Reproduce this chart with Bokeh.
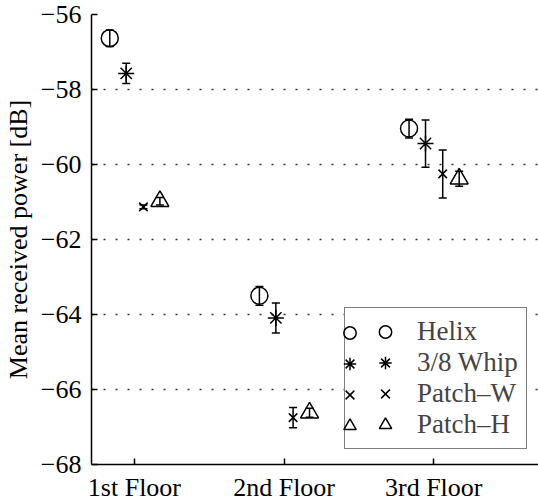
from bokeh.plotting import figure
from bokeh.models import (ColumnDataSource, Whisker, TeeHead, Range1d, FixedTicker,
                          Legend, LegendItem)
from bokeh.embed import file_html
from bokeh.resources import INLINE

floors = ["1st Floor", "2nd Floor", "3rd Floor"]
antennas = ["Helix", "3/8 Whip", "Patch\u2013W", "Patch\u2013H"]
helix = [-56.63, -63.50, -59.04]
helix_err = [0.22, 0.25, 0.25]
whip = [-57.57, -64.09, -59.44]
whip_err = [0.27, 0.40, 0.63]
patch_w = [-61.13, -66.75, -60.25]
patch_w_err = [0.05, 0.27, 0.64]
patch_h = [-60.98, -66.62, -60.38]
patch_h_err = [0.10, 0.12, 0.20]
y_ticks = [-68, -66, -64, -62, -60, -58, -56]

series = [helix, whip, patch_w, patch_h]
errors = [helix_err, whip_err, patch_w_err, patch_h_err]

# layout / style constants
offsets = [-0.165, -0.055, 0.06, 0.17]
markers = [("circle", 17), ("asterisk", 16), ("x", 12), ("triangle", 18)]
FONT = "Liberation Serif"

p = figure(width=538, height=504, x_range=Range1d(0.713, 3.70), y_range=Range1d(-68, -56),
           output_backend="svg", toolbar_location=None,
           min_border_left=90, min_border_right=0, min_border_top=14, min_border_bottom=39)
p.outline_line_color = None
p.background_fill_color = "white"
p.xgrid.visible = False
p.ygrid.ticker = FixedTicker(ticks=y_ticks)
p.ygrid.grid_line_color = "black"
p.ygrid.grid_line_width = 1.5
p.ygrid.grid_line_dash = "2 10"
p.ygrid.grid_line_alpha = 0.8

xticks = list(range(1, len(floors) + 1))
p.xaxis.ticker = FixedTicker(ticks=xticks)
p.xaxis.major_label_overrides = {t: f for t, f in zip(xticks, floors)}
p.yaxis.ticker = FixedTicker(ticks=y_ticks)
p.yaxis.major_label_overrides = {t: "\u2212" + str(abs(t)) for t in y_ticks}
p.yaxis.axis_label = "Mean received power [dB]"
for ax in (p.xaxis, p.yaxis):
    ax.major_tick_in = 6
    ax.major_tick_out = 0
    ax.minor_tick_line_color = None
    ax.axis_line_color = "black"
    ax.axis_line_width = 1.5
    ax.major_tick_line_width = 1.5
    ax.major_label_text_font = FONT
    ax.major_label_text_font_size = "26px"
    ax.major_label_text_color = "black"
    ax.axis_label_text_font = FONT
    ax.axis_label_text_font_size = "26px"
    ax.axis_label_text_font_style = "normal"
    ax.axis_label_text_color = "black"
p.xaxis.major_label_standoff = 8
p.yaxis.major_label_standoff = 10
p.yaxis.axis_label_standoff = 5

renderers = []
for k, (vals, errs) in enumerate(zip(series, errors)):
    xs = [i + 1 + offsets[k] for i in range(len(floors))]
    src = ColumnDataSource(dict(
        x=xs, y=vals,
        upper=[v + e for v, e in zip(vals, errs)],
        lower=[v - e for v, e in zip(vals, errs)],
    ))
    w = Whisker(base="x", upper="upper", lower="lower", source=src, dimension="height",
                line_color="black", line_width=1.5,
                upper_head=TeeHead(size=8, line_color="black", line_width=1.5),
                lower_head=TeeHead(size=8, line_color="black", line_width=1.5))
    p.add_layout(w)
    m, s = markers[k]
    r = p.scatter("x", "y", source=src, marker=m, size=s, line_color="black",
                  fill_color=None, line_width=1.5)
    renderers.append(r)

leg_kw = dict(spacing=0, glyph_height=31, label_height=31, label_standoff=0,
              label_text_font=FONT, label_text_font_size="27px", margin=0)
leg_b = Legend(items=[LegendItem(label=a, renderers=[r]) for a, r in zip(antennas, renderers)],
               location=(253, 15), border_line_color="black", border_line_width=1.5,
               background_fill_color="white", background_fill_alpha=1.0,
               padding=8, glyph_width=64, **leg_kw)
# first (line-style) marker column of the legend; no border -> no padding
leg_a = Legend(items=[LegendItem(label=" ", renderers=[r]) for r in renderers],
               location=(243, 23), border_line_color=None, background_fill_alpha=0,
               glyph_width=31, **leg_kw)
p.add_layout(leg_b)
p.add_layout(leg_a)

open("out.html", "w").write(file_html(p, INLINE))
